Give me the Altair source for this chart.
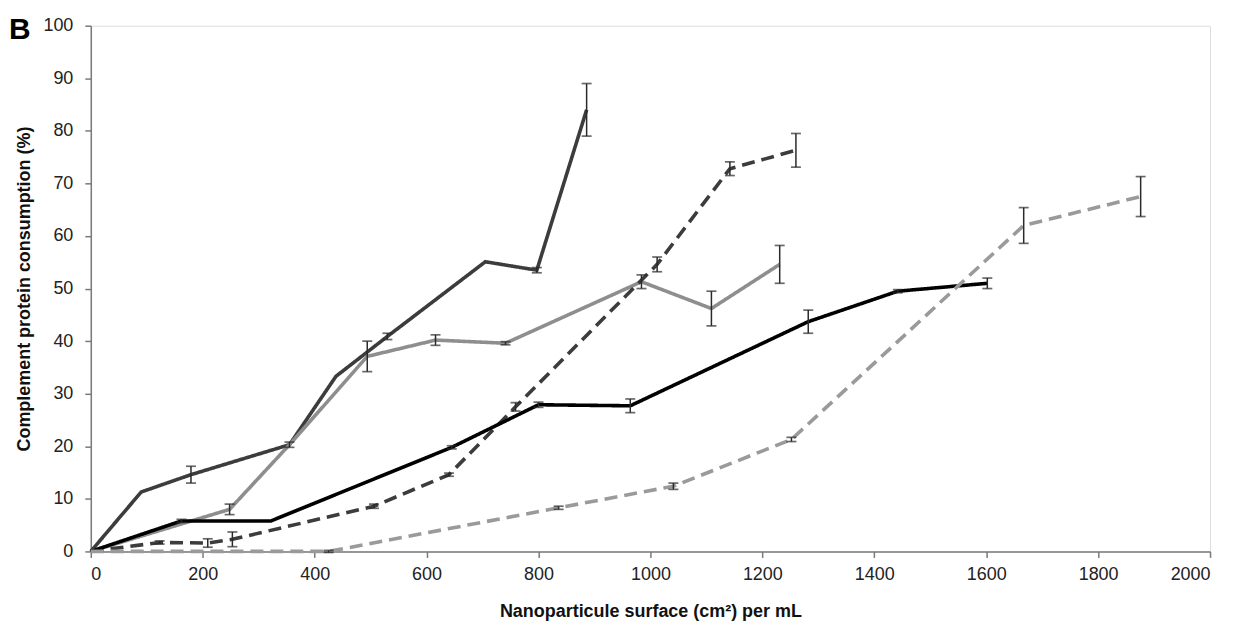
import altair as alt
import pandas as pd

# ---- data ----
series_names = ["S1 dark solid", "S2 grey solid", "S3 dark dashed", "S4 black solid", "S5 grey dashed"]

s1_x = [0, 90, 179, 355, 438, 530, 705, 797, 886]
s1_y = [0, 11.3, 14.6, 20.3, 33.3, 40.9, 55.1, 53.5, 84.0]
s1_e = [0, 0, 1.6, 0, 0, 0.6, 0, 0.5, 5.0]

s2_x = [0, 248, 355, 494, 616, 741, 984, 1109, 1231]
s2_y = [0, 8.0, 20.3, 37.1, 40.2, 39.6, 51.3, 46.2, 54.6]
s2_e = [0, 1.0, 0.5, 2.9, 1.0, 0.3, 1.3, 3.3, 3.6]

s3_x = [0, 123, 209, 253, 506, 640, 759, 1012, 1142, 1260]
s3_y = [0, 1.7, 1.6, 2.3, 8.6, 14.6, 27.5, 54.6, 72.8, 76.3]
s3_e = [0, 0.3, 0.8, 1.4, 0.4, 0.3, 0.8, 1.4, 1.3, 3.2]

s4_x = [0, 162, 322, 645, 800, 964, 1282, 1442, 1602]
s4_y = [0, 5.8, 5.8, 19.8, 27.9, 27.7, 43.7, 49.5, 51.0]
s4_e = [0, 0.3, 0, 0.3, 0.5, 1.3, 2.2, 0.3, 1.0]

s5_x = [0, 425, 836, 1041, 1252, 1667, 1876]
s5_y = [0, 0, 8.3, 12.4, 21.3, 62.0, 67.5]
s5_e = [0, 0.2, 0.3, 0.6, 0.4, 3.4, 3.8]

x_ticks = [0, 200, 400, 600, 800, 1000, 1200, 1400, 1600, 1800, 2000]
y_ticks = [0, 10, 20, 30, 40, 50, 60, 70, 80, 90, 100]
panel_label = ["B"]

series_colors = ["#3c3c3c", "#8e8e8e", "#3c3c3c", "#000000", "#9a9a9a"]
series_dash = [[1, 0], [1, 0], [13, 7], [1, 0], [13, 7]]

rows = []
for name, xs, ys, es in zip(series_names,
                            [s1_x, s2_x, s3_x, s4_x, s5_x],
                            [s1_y, s2_y, s3_y, s4_y, s5_y],
                            [s1_e, s2_e, s3_e, s4_e, s5_e]):
    for i, (x, y, e) in enumerate(zip(xs, ys, es)):
        rows.append({"series": name, "idx": i, "x": x, "y": y, "err": e,
                     "lo": y - e, "hi": y + e})
df = pd.DataFrame(rows)
df_err = df[df["err"] > 0]

x_scale = alt.Scale(domain=[0, 2000], nice=False, zero=False)
y_scale = alt.Scale(domain=[0, 100], nice=False)

FONT = "Liberation Sans"

x_axis = alt.Axis(values=x_ticks, format="d", title="Nanoparticule surface (cm²) per mL",
                  grid=False, tickSize=6, labelPadding=8, labelFontSize=18,
                  labelColor="#222222", domainColor="#7a7a7a", tickColor="#7a7a7a",
                  domainWidth=1.5, tickWidth=1.5, titleFontSize=18,
                  titleFontWeight="bold", titleColor="#111111", titlePadding=19,
                  labelFont=FONT, titleFont=FONT)
y_axis = alt.Axis(values=y_ticks, format="d", title="Complement protein consumption (%)",
                  grid=False, tickSize=6, labelPadding=12, labelFontSize=18,
                  labelColor="#222222", domainColor="#7a7a7a", tickColor="#7a7a7a",
                  domainWidth=1.5, tickWidth=1.5, titleFontSize=18,
                  titleFontWeight="bold", titleColor="#111111", titlePadding=9,
                  labelFont=FONT, titleFont=FONT)

base = alt.Chart(df)

lines = base.mark_line(strokeWidth=3.6, strokeCap="butt", strokeJoin="miter").encode(
    x=alt.X("x:Q", scale=x_scale, axis=x_axis),
    y=alt.Y("y:Q", scale=y_scale, axis=y_axis),
    color=alt.Color("series:N", scale=alt.Scale(domain=series_names, range=series_colors), legend=None),
    strokeDash=alt.StrokeDash("series:N", scale=alt.Scale(domain=series_names, range=series_dash), legend=None),
    detail="series:N",
    order="idx:Q",
)

err_base = alt.Chart(df_err)
err_rules = err_base.mark_rule(color="#2a2a2a", strokeWidth=1.5).encode(
    x=alt.X("x:Q", scale=x_scale),
    y=alt.Y("lo:Q", scale=y_scale),
    y2="hi:Q",
)
caps_lo = err_base.mark_tick(color="#2a2a2a", orient="horizontal", size=10, thickness=1.7).encode(
    x=alt.X("x:Q", scale=x_scale),
    y=alt.Y("lo:Q", scale=y_scale),
)
caps_hi = err_base.mark_tick(color="#2a2a2a", orient="horizontal", size=10, thickness=1.7).encode(
    x=alt.X("x:Q", scale=x_scale),
    y=alt.Y("hi:Q", scale=y_scale),
)

label = alt.Chart(pd.DataFrame({"t": panel_label})).mark_text(
    fontSize=30, fontWeight="bold", font=FONT, align="left",
    baseline="middle", color="#000000").encode(
    text="t:N", x=alt.value(-82), y=alt.value(4))

chart = alt.layer(lines, err_rules, caps_lo, caps_hi, label).properties(
    width=1122, height=527,
    autosize=alt.AutoSizeParams(type="none"),
    padding={"left": 83, "top": 17, "right": 20, "bottom": 70},
).configure_view(stroke=None).configure(background="white")

chart.save("out.html", embed_options={"renderer": "svg", "actions": False})
